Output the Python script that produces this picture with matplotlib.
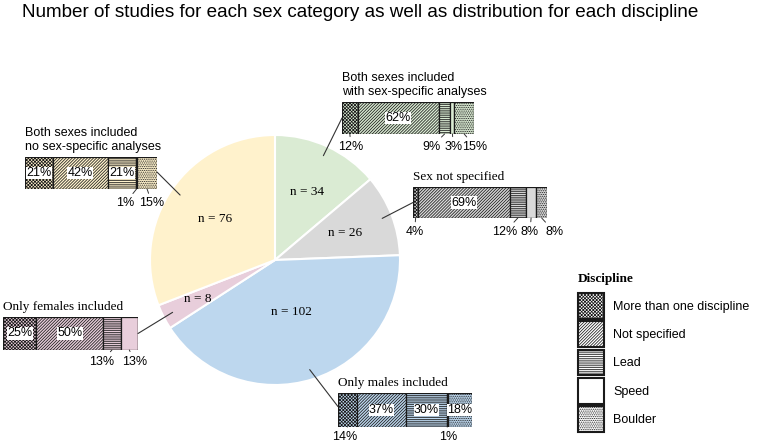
import numpy as np
import matplotlib
matplotlib.use("Agg")
import matplotlib.pyplot as plt
from matplotlib.patches import Patch, ConnectionPatch

# Data
categories = ["Both sexes included\nwith sex-specific analyses", "Sex not specified",
              "Only males included", "Only females included",
              "Both sexes included\nno sex-specific analyses"]
counts = [34, 26, 102, 8, 76]
disciplines = ["More than one discipline", "Not specified", "Lead", "Speed", "Boulder"]

with_specific = [12, 62, 9, 3, 15]
not_specified = [4, 69, 12, 8, 8]
only_males = [14, 37, 30, 1, 18]
only_females = [25, 50, 13, 13, 0]
no_specific = [21, 42, 21, 1, 15]
distributions = [with_specific, not_specified, only_males, only_females, no_specific]

# Styles
colors = ["#DAEBD3", "#D9D9D9", "#BDD7EE", "#E8CEDB", "#FFF2CC"]
hatches = ["x" * 10, "/" * 11, "-" * 9, "", "." * 9]
SANS = "Liberation Sans"
SERIF = "Liberation Serif"
title_fonts = [SANS, SERIF, SERIF, SERIF, SANS]
n_label_r = [0.6, 0.6, 0.44, 0.69, 0.58]

# box rectangles in pixels (left, top, right, bottom)
boxes = [(342, 102, 474, 134), (413, 187, 547, 218), (338, 393, 472, 427),
         (3, 317, 138, 350), (25, 157, 157, 189)]
# where the leader line meets the box (axes fraction)
box_anchor = [(0, 0.5), (0, 0.5), (0, 0.6), (1, 0.5), (1, 0.53)]
# x positions (in % units) and y of labels written under the bar
below_x = [[6.9, None, 68.5, 85.3, 101.8],
           [1.1, None, 69.3, 88.2, 106.6],
           [5.2, None, None, 82.5, None],
           [None, None, 73.7, 98.7, None],
           [None, None, None, 75.8, 96.2]]
below_y = [-0.9, -0.95, -0.8, -0.85, -0.95]

plt.rcParams["hatch.linewidth"] = 0.55

W, H = 760, 448
fig = plt.figure(figsize=(W / 100, H / 100), dpi=100)


def frac(left, top, right, bottom):
    return [left / W, 1 - bottom / H, (right - left) / W, (bottom - top) / H]


fig.text(22 / W, 1 - 17 / H,
         "Number of studies for each sex category as well as distribution for each discipline",
         fontsize=13.6, family=SANS, va="baseline", ha="left")

# Pie
cx, cy, R = 275, 260, 125
ax = fig.add_axes(frac(cx - R, cy - R, cx + R, cy + R))
wedges, _ = ax.pie(counts, colors=colors, startangle=90, counterclock=False,
                   radius=1, wedgeprops=dict(edgecolor="white", linewidth=1.5))
ax.set_xlim(-1, 1)
ax.set_ylim(-1, 1)
ax.set_aspect("equal")
ax.axis("off")

for i, w in enumerate(wedges):
    mid = np.deg2rad((w.theta1 + w.theta2) / 2)
    r = n_label_r[i]
    ax.text(r * np.cos(mid), r * np.sin(mid), f"n = {counts[i]}",
            ha="center", va="center", fontsize=9.5, family=SERIF)

    # stacked bar box
    vals = distributions[i]
    total = sum(vals)
    bax = fig.add_axes(frac(*boxes[i]))
    left = 0
    for j, v in enumerate(vals):
        bax.barh(0, v, left=left, height=1, color=colors[i], hatch=hatches[j],
                 edgecolor="#1a1a1a", linewidth=0.9)
        c = left + v / 2
        if v >= 18:
            bax.text(c, 0, f"{v}%", ha="center", va="center", fontsize=9, family=SANS,
                     bbox=dict(facecolor="white", edgecolor="none", pad=0.3))
        elif v > 0:
            bax.annotate(f"{v}%", xy=(c, -0.5), xytext=(below_x[i][j], below_y[i]),
                         ha="center", va="center", fontsize=9, family=SANS,
                         annotation_clip=False,
                         arrowprops=dict(arrowstyle="-", lw=0.7, color="#333333",
                                         shrinkA=1, shrinkB=0))
        left += v
    bax.set_xlim(0, total)
    bax.set_ylim(-0.5, 0.5)
    bax.axis("off")
    bax.annotate(categories[i], xy=(0, 1), xycoords="axes fraction",
                 xytext=(0, 3), textcoords="offset points",
                 ha="left", va="bottom", fontsize=9.5 if title_fonts[i] == SERIF else 9,
                 family=title_fonts[i], linespacing=1.25)

    # leader line from wedge to box
    pr = 0.92
    con = ConnectionPatch(xyA=(pr * np.cos(mid), pr * np.sin(mid)), coordsA=ax.transData,
                          xyB=box_anchor[i], coordsB=bax.transAxes,
                          color="#333333", lw=0.8)
    fig.add_artist(con)

# Legend
handles = [Patch(facecolor="white", edgecolor="#1a1a1a", hatch=h, linewidth=1.5)
           for h in hatches]
leg = fig.legend(handles, disciplines, loc="upper left",
                 bbox_to_anchor=(569 / W, 1 - 264 / H), frameon=False,
                 handlelength=2.1, handleheight=2.8, labelspacing=0.2,
                 handletextpad=0.75, borderpad=0.2,
                 prop=dict(family=SANS, size=9),
                 title="Discipline\n",
                 title_fontproperties=dict(family=SERIF, weight="bold", size=9.5),
                 alignment="left")
leg.get_title().set_linespacing(0.3)

fig.savefig("out.png", dpi=100)
